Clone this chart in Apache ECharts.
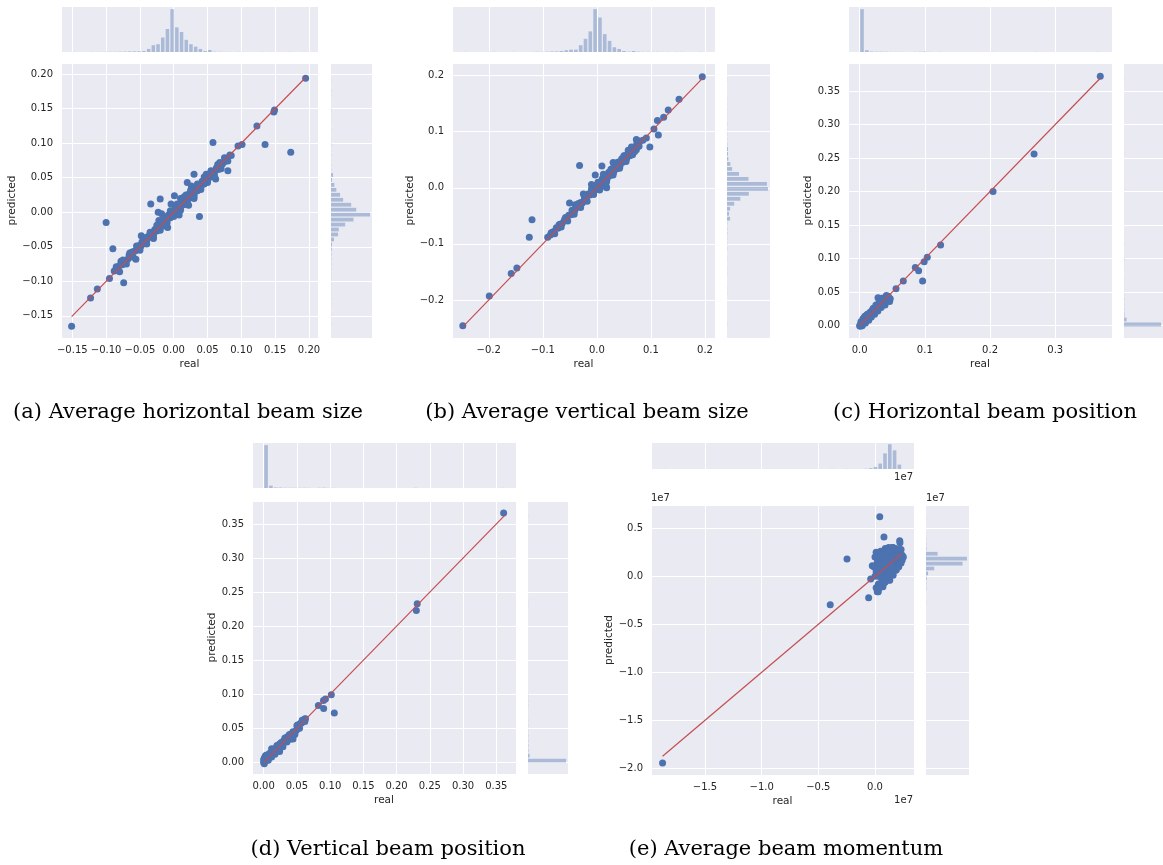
<!DOCTYPE html>
<html>
<head>
<meta charset="utf-8">
<script src="https://cdn.jsdelivr.net/npm/echarts@6/dist/echarts.min.js"></script>
<style>
html, body { margin: 0; background: #fff; }
#main { width: 1163px; height: 865px; }
</style>
</head>
<body>
<div id="main"></div>
<script>
// ---- (a) average horizontal beam size : [real, predicted]
var hSizePts = [
  [0.195,0.194],[0.149,0.148],[0.148,0.145],[0.123,0.125],[0.058,0.101],[0.095,0.096],[0.101,0.098],
  [0.135,0.098],[0.173,0.087],[0.083,0.083],[0.080,0.060],[0.030,0.055],[0.062,0.048],[0.020,0.043],
  [0.001,0.024],[-0.020,0.019],[-0.034,0.012],[-0.023,0.000],[0.038,-0.006],[-0.100,-0.015],
  [-0.009,-0.022],[-0.048,-0.034],[-0.090,-0.053],[-0.056,-0.068],[-0.078,-0.071],[-0.085,-0.081],
  [-0.095,-0.096],[-0.074,-0.102],[-0.113,-0.111],[-0.123,-0.124],[-0.151,-0.165],
  [-0.088,-0.085],[-0.083,-0.082],[-0.080,-0.077],[-0.076,-0.076],[-0.072,-0.070],[-0.068,-0.068],
  [-0.066,-0.062],[-0.062,-0.063],[-0.060,-0.057],[-0.057,-0.056],[-0.054,-0.053],[-0.051,-0.048],
  [-0.049,-0.050],[-0.047,-0.043],[-0.045,-0.046],[-0.043,-0.040],[-0.040,-0.041],[-0.038,-0.035],
  [-0.035,-0.036],[-0.033,-0.030],[-0.030,-0.032],[-0.028,-0.025],[-0.025,-0.027],[-0.023,-0.020],
  [-0.020,-0.022],[-0.018,-0.014],[-0.015,-0.017],[-0.013,-0.009],[-0.010,-0.013],[-0.008,-0.004],
  [-0.005,-0.008],[-0.003,0.001],[0.000,-0.003],[0.002,0.006],[0.005,0.001],[0.007,0.011],
  [0.010,0.006],[0.012,0.015],[0.015,0.011],[0.017,0.020],[0.020,0.016],[0.022,0.026],[0.025,0.021],
  [0.027,0.031],[0.030,0.026],[0.032,0.035],[0.035,0.031],[0.037,0.040],[0.040,0.036],[0.042,0.045],
  [0.045,0.041],[0.047,0.050],[0.050,0.046],[0.052,0.054],[0.055,0.051],[0.057,0.059],[0.060,0.056],
  [0.063,0.064],[0.066,0.062],[0.069,0.069],[0.072,0.070],[0.075,0.073],[0.078,0.078],[0.085,0.082],
  [-0.018,-0.002],[0.010,0.020],[0.022,0.010],[0.026,0.038],[0.030,0.020],[-0.004,0.012],
  [0.008,-0.004],[-0.030,-0.038],[-0.022,-0.012],[-0.043,-0.044],
  [-0.085,-0.079],[-0.080,-0.086],[-0.075,-0.069],[-0.070,-0.075],[-0.065,-0.059],[-0.060,-0.065],
  [-0.055,-0.049],[-0.050,-0.055],[-0.045,-0.039],[-0.040,-0.046],[-0.035,-0.029],[-0.030,-0.036],
  [-0.025,-0.019],[-0.020,-0.026],[-0.015,-0.008],[-0.010,-0.016],[-0.005,0.002],[0.000,-0.006],
  [0.005,0.012],[0.010,0.003],[0.015,0.022],[0.020,0.013],[0.025,0.032],[0.030,0.023],[0.035,0.041],
  [0.040,0.033],[0.045,0.051],[0.050,0.043],[0.055,0.060],[0.060,0.053],[0.065,0.069],[0.070,0.063],
  [0.075,0.079],[0.080,0.074],[-0.062,-0.058],[-0.042,-0.037],[-0.012,-0.020],[0.018,0.025],
  [0.048,0.055],[0.068,0.072]
];
var hSizeLine = [-0.151, 0.195];
var hSizeRealBins = { start: -0.152, width: 0.00696 };
var hSizeRealCounts = [1,0,0,0,1,1,1,2,2,2, 3,4,5,6,7,10,30,67,77,143, 227,423,243,197,120,77,53,30,10,20,
  3,2,1,1,0,1,1,0,0,0, 1,0,1,0,0,0,1,0,0,1];
var hSizePredBins = { start: -0.165, width: 0.00718 };
var hSizePredCounts = [1,0,1,0,1,1,1,1,2,2, 2,2,3,3,4,7,10,30,70,77, 140,223,387,250,200,120,90,53,33,10,
  20,2,2,1,2,1,2,1,0,1, 0,1,1,2,0,0,1,2,0,1];

// ---- (b) average vertical beam size
var vSizePts = [
  [0.195,0.198],[0.152,0.158],[0.132,0.139],[0.1235,0.126],[0.112,0.120],[0.1056,0.105],[0.1137,0.094],
  [0.098,0.073],[0.0915,0.089],[-0.032,0.040],[0.0093,0.039],[-0.003,0.023],[-0.0506,-0.027],
  [-0.120,-0.057],[-0.125,-0.088],[-0.0845,-0.080],[-0.091,-0.088],[-0.148,-0.143],[-0.1585,-0.153],
  [-0.199,-0.193],[-0.248,-0.246],[0.017,0.003],[0.020,0.020],
  [-0.086,-0.084],[-0.080,-0.078],[-0.075,-0.071],[-0.072,-0.072],[-0.068,-0.065],[-0.064,-0.063],
  [-0.060,-0.057],[-0.056,-0.056],[-0.052,-0.049],[-0.048,-0.048],[-0.045,-0.041],[-0.041,-0.041],
  [-0.038,-0.034],[-0.034,-0.034],[-0.030,-0.026],[-0.027,-0.027],[-0.023,-0.019],[-0.020,-0.020],
  [-0.016,-0.011],[-0.013,-0.013],[-0.009,-0.004],[-0.006,-0.007],[-0.002,0.004],[0.001,-0.001],
  [0.004,0.010],[0.007,0.004],[0.010,0.016],[0.013,0.010],[0.016,0.022],[0.019,0.016],[0.022,0.028],
  [0.025,0.022],[0.028,0.034],[0.031,0.028],[0.034,0.040],[0.037,0.034],[0.040,0.046],[0.043,0.040],
  [0.046,0.052],[0.049,0.046],[0.052,0.057],[0.055,0.052],[0.058,0.063],[0.061,0.057],[0.064,0.068],
  [0.067,0.062],[0.070,0.073],[0.073,0.068],[0.076,0.084],[0.079,0.082],[0.085,0.085],[0.073,0.086],
  [-0.010,0.006],[0.005,-0.004],[0.018,0.000],[0.030,0.045],[-0.025,-0.011],[0.012,0.024],
  [-0.040,-0.030],[0.070,0.065],
  [-0.083,-0.080],[-0.078,-0.082],[-0.070,-0.066],[-0.066,-0.070],[-0.058,-0.053],[-0.054,-0.059],
  [-0.046,-0.040],[-0.042,-0.047],[-0.034,-0.028],[-0.030,-0.035],[-0.022,-0.015],[-0.018,-0.024],
  [-0.010,-0.002],[-0.006,-0.012],[0.002,0.010],[0.006,-0.001],[0.014,0.021],[0.018,0.011],
  [0.026,0.033],[0.030,0.023],[0.038,0.045],[0.042,0.035],[0.050,0.057],[0.054,0.047],[0.062,0.068],
  [0.066,0.059],[0.074,0.079],[0.078,0.074],[0.064,0.073],[0.058,0.067]
];
var vSizeLine = [-0.248, 0.197];
var vSizeRealBins = { start: -0.248, width: 0.0089 };
var vSizeRealCounts = [1,0,0,0,0,1,1,0,0,0, 1,0,0,0,1,2,2,3,5,6, 10,17,23,23,67,130,203,423,340,177,
  110,47,30,10,3,10,3,2,2,1, 2,1,1,0,1,1,0,0,0,1];
var vSizePredBins = { start: -0.246, width: 0.00888 };
var vSizePredCounts = [1,0,0,0,0,0,1,1,0,0, 1,1,0,1,0,2,2,2,3,3, 3,30,20,30,70,130,213,400,390,210,
  117,50,33,13,10,10,3,2,2,1, 2,1,1,1,1,1,0,0,0,1];

// ---- (c) horizontal beam position
var hPosPts = [
  [0.369,0.372],[0.2675,0.256],[0.2046,0.200],[0.1242,0.1204],[0.1038,0.102],[0.099,0.0955],
  [0.0854,0.0866],[0.0905,0.082],[0.0966,0.0667],[0.067,0.0667],[0.0558,0.0552],[0.0282,0.0418],
  [0.042,0.043],[0.046,0.036],
  [0.000,0.000],[0.001,-0.001],[0.002,0.003],[0.003,0.001],[0.004,0.005],[0.005,0.003],[0.006,0.008],
  [0.007,0.005],[0.008,0.010],[0.009,0.007],[0.010,0.013],[0.011,0.009],[0.012,0.015],[0.013,0.011],
  [0.014,0.012],[0.015,0.017],[0.016,0.013],[0.018,0.021],[0.019,0.017],[0.020,0.024],[0.021,0.019],
  [0.022,0.025],[0.024,0.022],[0.025,0.028],[0.026,0.024],[0.028,0.031],[0.029,0.027],[0.030,0.034],
  [0.032,0.030],[0.034,0.036],[0.035,0.033],[0.037,0.040],[0.038,0.036],[0.040,0.042],[0.042,0.038],
  [0.044,0.044],[0.047,0.040],[0.005,0.010],[0.008,0.014],[0.012,0.017],
  [0.002,0.006],[0.004,0.000],[0.006,0.011],[0.009,0.004],[0.011,0.016],[0.014,0.008],[0.016,0.020],
  [0.018,0.013],[0.021,0.026],[0.023,0.017],[0.025,0.031],[0.028,0.022],[0.031,0.037],[0.033,0.027],
  [0.036,0.041],[0.039,0.031],[0.041,0.045],[0.044,0.037],[0.034,0.041],[0.045,0.041]
];
var hPosLine = [0.0, 0.369];
var hPosRealBins = { start: 0.0, width: 0.0074 };
var hPosRealCounts = [420,17,4,3,3,2,1,1,1,0, 0,1,2,4,1,0,1,0,0,0, 0,0,0,0,0,0,0,1,0,0,
  0,0,0,0,0,0,1,0,0,0, 0,0,0,0,0,0,0,0,0,1];
var hPosPredBins = { start: -0.002, width: 0.00748 };
var hPosPredCounts = [390,27,5,3,3,3,2,1,1,1, 0,1,1,3,0,0,1,0,0,0, 0,0,0,0,0,0,0,1,0,0,
  0,0,0,0,1,0,0,0,0,0, 0,0,0,0,0,0,0,0,0,1];

// ---- (d) vertical beam position
var vPosPts = [
  [0.361,0.366],[0.231,0.233],[0.2297,0.2229],[0.1018,0.0993],[0.1063,0.0724],[0.0903,0.0792],
  [0.090,0.091],[0.093,0.093],[0.0823,0.0836],[0.0617,0.0636],[0.0512,0.0494],[0.0442,0.0343],
  [0.000,0.000],[0.000,0.004],[0.001,-0.002],[0.002,0.008],[0.002,0.002],[0.003,0.010],[0.004,0.004],
  [0.005,0.007],[0.006,0.010],[0.007,0.006],[0.008,0.012],[0.009,0.009],[0.010,0.014],[0.011,0.011],
  [0.012,0.015],[0.013,0.012],[0.015,0.017],[0.016,0.014],[0.018,0.021],[0.019,0.018],[0.021,0.024],
  [0.022,0.021],[0.024,0.027],[0.025,0.024],[0.027,0.028],[0.028,0.026],[0.031,0.033],[0.033,0.031],
  [0.035,0.037],[0.037,0.035],[0.039,0.041],[0.041,0.039],[0.043,0.041],[0.046,0.044],[0.049,0.047],
  [0.050,0.054],[0.053,0.055],[0.055,0.057],[0.057,0.058],[0.059,0.061],[0.061,0.062],[0.063,0.064],
  [0.012,0.020],[0.024,0.016],[0.028,0.030],
  [0.001,0.006],[0.003,0.002],[0.005,0.011],[0.007,0.003],[0.009,0.013],[0.012,0.008],[0.014,0.018],
  [0.017,0.012],[0.020,0.025],[0.023,0.018],[0.026,0.029],[0.029,0.023],[0.032,0.036],[0.035,0.030],
  [0.038,0.040],[0.040,0.034],[0.044,0.045],[0.047,0.041],[0.051,0.055],[0.054,0.050],[0.058,0.062],
  [0.062,0.060]
];
var vPosLine = [0.0, 0.363];
var vPosRealBins = { start: 0.0, width: 0.00726 };
var vPosRealCounts = [423,23,5,4,2,2,2,2,2,1, 0,2,3,1,1,0,0,0,0,0, 0,0,0,0,0,0,0,0,0,0,
  0,2,0,0,0,0,0,0,0,0, 0,0,0,0,0,0,0,0,0,1];
var vPosPredBins = { start: -0.001, width: 0.00733 };
var vPosPredCounts = [400,17,5,4,3,3,2,2,2,1, 1,2,2,2,0,0,0,0,0,0, 0,0,0,0,0,0,0,0,0,0,
  0,1,1,0,0,0,0,0,0,0, 0,0,0,0,0,0,0,0,0,1];

// ---- (e) average beam momentum
var momPts = [
  [-1.874e7,-1.945e7],[-0.395e7,-0.296e7],[-0.247e7,0.180e7],[-0.056e7,-0.223e7],[0.042e7,0.621e7],
  [0.079e7,0.409e7],[0.218e7,0.371e7],[0.220e7,0.350e7],[-0.038e7,-0.028e7],[-0.024e7,0.110e7],
  [0.029e7,-0.160e7],[0.126e7,-0.038e7],[0.167e7,0.075e7],
  [-0.01e7,0.10e7],[0.00e7,0.00e7],[0.00e7,0.20e7],[0.01e7,-0.12e7],[0.01e7,0.25e7],[0.02e7,0.05e7],
  [0.02e7,-0.16e7],[0.02e7,0.15e7],[0.03e7,-0.08e7],[0.03e7,0.22e7],[0.04e7,0.02e7],[0.04e7,0.12e7],
  [0.05e7,-0.10e7],[0.05e7,0.26e7],[0.05e7,0.18e7],[0.06e7,0.07e7],[0.06e7,-0.03e7],[0.07e7,0.24e7],
  [0.07e7,-0.11e7],[0.08e7,0.14e7],[0.08e7,0.00e7],[0.09e7,0.29e7],[0.09e7,0.20e7],[0.09e7,-0.06e7],
  [0.10e7,0.10e7],[0.10e7,0.04e7],[0.11e7,0.26e7],[0.11e7,0.16e7],[0.12e7,0.21e7],[0.12e7,-0.02e7],
  [0.12e7,0.08e7],[0.13e7,0.13e7],[0.13e7,0.28e7],[0.13e7,-0.04e7],[0.14e7,0.18e7],[0.14e7,0.05e7],
  [0.14e7,0.23e7],[0.15e7,0.15e7],[0.15e7,0.30e7],[0.15e7,0.09e7],[0.16e7,0.20e7],[0.16e7,0.01e7],
  [0.17e7,0.25e7],[0.17e7,0.13e7],[0.18e7,0.18e7],[0.18e7,0.06e7],[0.18e7,0.29e7],[0.19e7,0.22e7],
  [0.19e7,0.12e7],[0.20e7,0.16e7],[0.20e7,0.27e7],[0.21e7,0.20e7],[0.21e7,0.10e7],[0.22e7,0.24e7],
  [0.22e7,0.16e7],[0.23e7,0.20e7],[0.23e7,0.28e7],[0.24e7,0.22e7],[0.24e7,0.17e7],[0.25e7,0.20e7],
  [0.00e7,0.10e7],[0.01e7,0.05e7],[0.02e7,0.22e7],[0.03e7,0.00e7],[0.04e7,-0.12e7],[0.04e7,0.20e7],
  [0.06e7,0.22e7],[0.06e7,0.13e7],[0.07e7,0.04e7],[0.08e7,0.20e7],[0.08e7,-0.07e7],[0.10e7,0.26e7],
  [0.10e7,0.16e7],[0.11e7,0.08e7],[0.11e7,0.00e7],[0.12e7,0.15e7],[0.13e7,0.20e7],[0.14e7,0.11e7],
  [0.15e7,0.24e7],[0.16e7,0.06e7],[0.17e7,0.19e7],[0.18e7,0.23e7],[0.19e7,0.28e7],[0.20e7,0.21e7],
  [0.21e7,0.28e7],[0.22e7,0.20e7],[0.23e7,0.14e7],[0.16e7,0.30e7],[0.12e7,0.30e7],[0.19e7,0.07e7]
];
var momLine = [-1.874e7, 0.235e7];
var momRealBins = { start: -1.874e7, width: 0.0422e7 };
var momRealCounts = [1,0,0,0,0,0,0,0,0,0, 0,0,0,0,0,0,0,0,0,0, 0,0,0,0,0,0,0,0,0,0,
  0,0,0,0,0,1,0,0,1,0, 0,0,2,8,20,53,153,243,183,43];
var momPredBins = { start: -1.945e7, width: 0.0513e7 };
var momPredCounts = [1,0,0,0,0,0,0,0,0,0, 0,0,0,0,0,0,0,0,0,0, 0,0,0,0,0,0,0,0,0,0,
  0,0,1,0,0,3,3,7,20,80, 357,400,113,5,3,2,1,0,0,1];

var captions = [
  '(a) Average horizontal beam size',
  '(b) Average vertical beam size',
  '(c) Horizontal beam position',
  '(d) Vertical beam position',
  '(e) Average beam momentum'
];

// layout of the five joint plots (pixels) and axis windows
var panels = [
  { pts: hSizePts, line: hSizeLine, rb: hSizeRealBins, rc: hSizeRealCounts, pb: hSizePredBins, pc: hSizePredCounts,
    main: [61, 63, 257, 275], top: [61, 7, 257, 45], right: [331, 63, 41, 275], yGap: 43,
    x: { min: -0.1667, max: 0.2133, split: 8, step: 0.05, dec: 2, scale: 1 },
    y: { min: -0.182, max: 0.216, split: 8, step: 0.05, dec: 2, scale: 1 } },
  { pts: vSizePts, line: vSizeLine, rb: vSizeRealBins, rc: vSizeRealCounts, pb: vSizePredBins, pc: vSizePredCounts,
    main: [452, 63, 263, 275], top: [452, 7, 263, 45], right: [727, 63, 43, 275], yGap: 36,
    x: { min: -0.268, max: 0.2185, split: 5, step: 0.1, dec: 1, scale: 1 },
    y: { min: -0.2678, max: 0.2226, split: 5, step: 0.1, dec: 1, scale: 1 } },
  { pts: hPosPts, line: hPosLine, rb: hPosRealBins, rc: hPosRealCounts, pb: hPosPredBins, pc: hPosPredCounts,
    main: [848, 63, 264, 275], top: [848, 7, 264, 45], right: [1124, 63, 42, 275], yGap: 34,
    x: { min: -0.0178, max: 0.387, split: 4, step: 0.1, dec: 1, scale: 1 },
    y: { min: -0.0184, max: 0.3918, split: 8, step: 0.05, dec: 2, scale: 1 } },
  { pts: vPosPts, line: vPosLine, rb: vPosRealBins, rc: vPosRealCounts, pb: vPosPredBins, pc: vPosPredCounts,
    main: [252, 501, 264, 273], top: [252, 443, 264, 45], right: [528, 501, 40, 273], yGap: 34,
    x: { min: -0.0175, max: 0.3796, split: 8, step: 0.05, dec: 2, scale: 1 },
    y: { min: -0.017, max: 0.3837, split: 8, step: 0.05, dec: 2, scale: 1 } },
  { pts: momPts, line: momLine, rb: momRealBins, rc: momRealCounts, pb: momPredBins, pc: momPredCounts,
    main: [651, 505, 263, 270], top: [651, 443, 263, 26], right: [926, 505, 43, 270], yGap: 36,
    x: { min: -1.976e7, max: 0.344e7, split: 5, step: 0.5e7, dec: 1, scale: 1e7 },
    y: { min: -2.07e7, max: 0.743e7, split: 6, step: 0.5e7, dec: 1, scale: 1e7 } }
];

var BG = '#EAEAF2', DOT = '#4C72B0', RED = '#C44E52', INK = '#262626';
var FONT = 'DejaVu Sans';

function tickFmt(ax) {
  return function (v) {
    var k = v / ax.step;
    if (Math.abs(k - Math.round(k)) > 1e-6) return '';
    var s = (Math.round(k) * ax.step / ax.scale).toFixed(ax.dec);
    if (Number(s) === 0) s = (0).toFixed(ax.dec);
    return s.replace('-', '\u2212');
  };
}

function bins(b, counts) {
  var out = [];
  counts.forEach(function (c, k) {
    if (c > 0) out.push([b.start + k * b.width, b.start + (k + 1) * b.width, c]);
  });
  return out;
}

function histItem(horizontal) {
  return function (params, api) {
    var lo = api.value(0), hi = api.value(1), c = api.value(2);
    var a = horizontal ? api.coord([0, hi]) : api.coord([lo, c]);
    var b = horizontal ? api.coord([c, lo]) : api.coord([hi, 0]);
    var x = Math.min(a[0], b[0]), y = Math.min(a[1], b[1]);
    var w = Math.abs(b[0] - a[0]), h = Math.abs(b[1] - a[1]);
    if (horizontal) { y += 0.6; h -= 1.2; } else { x += 0.6; w -= 1.2; }
    return { type: 'rect', shape: { x: x, y: y, width: w, height: h },
      style: { fill: DOT, opacity: 0.4 } };
  };
}

function gridAt(r) {
  return { left: r[0], top: r[1], width: r[2], height: r[3], show: true,
    backgroundColor: BG, borderWidth: 0, containLabel: false };
}

function valAxis(gi, ax, opts) {
  var a = {
    type: 'value', gridIndex: gi, min: ax.min, max: ax.max, splitNumber: ax.split,
    axisLine: { show: false }, axisTick: { show: false },
    axisLabel: { show: opts.labels, formatter: tickFmt(ax), color: INK, fontSize: 10,
      fontFamily: FONT, margin: opts.margin || 8 },
    splitLine: { show: true, lineStyle: { color: '#ffffff', width: 1 } }
  };
  if (opts.name) {
    a.name = opts.name; a.nameLocation = 'middle'; a.nameGap = opts.gap;
    a.nameTextStyle = { color: INK, fontSize: 10.5, fontFamily: FONT };
  }
  return a;
}

function countAxis(gi, max) {
  return { type: 'value', gridIndex: gi, min: 0, max: max * 1.05, show: false,
    splitLine: { show: false } };
}

var grid = [], xAxis = [], yAxis = [], series = [];

panels.forEach(function (p) {
  var g = grid.length;
  grid.push(gridAt(p.main), gridAt(p.top), gridAt(p.right));

  xAxis.push(valAxis(g, p.x, { labels: true, name: 'real', gap: 21, margin: 7 }));
  yAxis.push(valAxis(g, p.y, { labels: true, name: 'predicted', gap: p.yGap, margin: 8 }));
  xAxis.push(valAxis(g + 1, p.x, { labels: false }));
  yAxis.push(countAxis(g + 1, Math.max.apply(null, p.rc)));
  xAxis.push(countAxis(g + 2, Math.max.apply(null, p.pc)));
  yAxis.push(valAxis(g + 2, p.y, { labels: false }));

  series.push({
    type: 'scatter', xAxisIndex: g, yAxisIndex: g, data: p.pts, symbolSize: 7,
    itemStyle: { color: DOT, opacity: 1 }, silent: true, z: 2
  });
  series.push({
    type: 'line', xAxisIndex: g, yAxisIndex: g,
    data: [[p.line[0], p.line[0]], [p.line[1], p.line[1]]],
    symbol: 'none', lineStyle: { color: RED, width: 1.2 }, silent: true, z: 3
  });
  series.push({
    type: 'custom', xAxisIndex: g + 1, yAxisIndex: g + 1, data: bins(p.rb, p.rc),
    renderItem: histItem(false), encode: { x: [0, 1], y: 2 }, clip: true, silent: true
  });
  series.push({
    type: 'custom', xAxisIndex: g + 2, yAxisIndex: g + 2, data: bins(p.pb, p.pc),
    renderItem: histItem(true), encode: { x: 2, y: [0, 1] }, clip: true, silent: true
  });
});

var captionPos = [[188, 413], [587, 413], [985, 413], [388, 850], [786, 850]];
var graphic = captions.map(function (t, i) {
  return { type: 'text', x: captionPos[i][0], y: captionPos[i][1],
    style: { text: t, font: '21px "DejaVu Serif"', fill: '#000', align: 'center', verticalAlign: 'middle' } };
});
// scale offset texts of panel (e)
[[913, 477, 'right'], [651, 498, 'left'], [926, 498, 'left'], [913, 800, 'right']].forEach(function (o) {
  graphic.push({ type: 'text', x: o[0], y: o[1],
    style: { text: '1e7', font: '10px "DejaVu Sans"', fill: INK, align: o[2], verticalAlign: 'middle' } });
});

var chart = echarts.init(document.getElementById('main'), null, { renderer: 'canvas' });
chart.setOption({
  animation: false,
  backgroundColor: '#ffffff',
  grid: grid, xAxis: xAxis, yAxis: yAxis, series: series, graphic: graphic
});
</script>
</body>
</html>
